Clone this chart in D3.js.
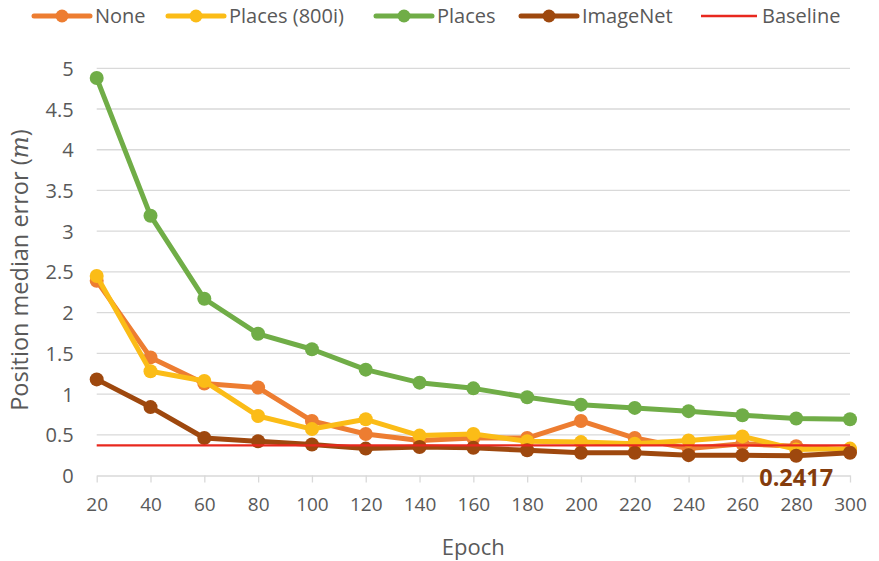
<!DOCTYPE html>
<html>
<head>
<meta charset="utf-8">
<script src="https://cdn.jsdelivr.net/npm/d3@7"></script>
<style>
  html, body { margin: 0; padding: 0; background: #fff; }
  svg text { font-family: "Open Sans", "Liberation Sans", sans-serif; }
</style>
</head>
<body>
<svg id="chart" width="879" height="561"></svg>
<script>
const epochs = [20, 40, 60, 80, 100, 120, 140, 160, 180, 200, 220, 240, 260, 280, 300];
const noneVals = [2.39, 1.45, 1.13, 1.08, 0.67, 0.51, 0.43, 0.46, 0.46, 0.67, 0.46, 0.33, 0.39, 0.36, 0.31];
const places800iVals = [2.45, 1.28, 1.16, 0.73, 0.57, 0.69, 0.49, 0.51, 0.42, 0.41, 0.39, 0.43, 0.48, 0.32, 0.33];
const placesVals = [4.88, 3.19, 2.17, 1.74, 1.55, 1.30, 1.14, 1.07, 0.96, 0.87, 0.83, 0.79, 0.74, 0.70, 0.69];
const imagenetVals = [1.18, 0.84, 0.46, 0.42, 0.38, 0.33, 0.35, 0.34, 0.31, 0.28, 0.28, 0.25, 0.25, 0.2417, 0.28];
const baselineVal = 0.37;
const yTicks = [0, 0.5, 1, 1.5, 2, 2.5, 3, 3.5, 4, 4.5, 5];
const seriesNames = ["None", "Places (800i)", "Places", "ImageNet", "Baseline"];
const seriesColors = ["#ED7D31", "#FBBC17", "#70AD47", "#9E480E", "#E8281E"];
const annotation = "0.2417";

const svg = d3.select("#chart");
const mLeft = 96.7, mRight = 850, mTop = 68.3, mBottom = 475.5;

const x = d3.scalePoint().domain(epochs).range([mLeft, mRight]);
const y = d3.scaleLinear().domain([0, 5]).range([mBottom, mTop]);

const grey = "#595959";

// gridlines
svg.append("g").selectAll("line").data(yTicks.filter(d => d > 0)).join("line")
  .attr("x1", mLeft).attr("x2", mRight)
  .attr("y1", d => y(d)).attr("y2", d => y(d))
  .attr("stroke", "#D9D9D9").attr("stroke-width", 1.3);

// y axis
const yAxis = d3.axisLeft(y).tickValues(yTicks).tickSize(0).tickPadding(0).tickFormat(d3.format("~g"));
const yg = svg.append("g").attr("transform", `translate(${mLeft - 23},0)`).call(yAxis);
yg.select(".domain").remove();
yg.selectAll("text").attr("fill", grey).attr("font-size", 20).attr("dy", "0.35em");

// x axis
const xAxis = d3.axisBottom(x).tickSize(7).tickPadding(15).tickSizeOuter(0);
const xg = svg.append("g").attr("transform", `translate(0,${mBottom})`).call(xAxis);
xg.select(".domain").attr("stroke", "#D9D9D9").attr("stroke-width", 1.3);
xg.selectAll(".tick line").attr("stroke", "#D9D9D9").attr("stroke-width", 1.3);
xg.selectAll("text").attr("fill", grey).attr("font-size", 19);

// axis titles
svg.append("text").attr("x", (mLeft + mRight) / 2).attr("y", 555)
  .attr("text-anchor", "middle").attr("fill", grey).attr("font-size", 22).text("Epoch");

const yt = svg.append("text")
  .attr("transform", `translate(28,270) rotate(-90)`)
  .attr("text-anchor", "middle").attr("fill", grey).attr("font-size", 23.5);
yt.append("tspan").text("Position median error (");
yt.append("tspan").attr("font-family", "DejaVu Serif, Liberation Serif, serif").attr("font-style", "italic").text("m");
yt.append("tspan").text(")");

// series
const data = [noneVals, places800iVals, placesVals, imagenetVals];
const line = d3.line().x((d, i) => x(epochs[i])).y(d => y(d));
data.forEach((vals, si) => {
  const g = svg.append("g");
  g.append("path").datum(vals).attr("d", line)
    .attr("fill", "none").attr("stroke", seriesColors[si]).attr("stroke-width", 5)
    .attr("stroke-linejoin", "round");
  g.selectAll("circle").data(vals).join("circle")
    .attr("cx", (d, i) => x(epochs[i])).attr("cy", d => y(d)).attr("r", 7)
    .attr("fill", seriesColors[si]);
});

// baseline
svg.append("line")
  .attr("x1", x(epochs[0])).attr("x2", x(epochs[epochs.length - 1]))
  .attr("y1", y(baselineVal)).attr("y2", y(baselineVal))
  .attr("stroke", seriesColors[4]).attr("stroke-width", 2.2);

// annotation
svg.append("text").attr("x", x(280)).attr("y", 486)
  .attr("text-anchor", "middle").attr("fill", "#843C0C")
  .attr("font-size", 23.5).attr("font-weight", "bold").text(annotation);

// legend
const legendX = [34, 168, 376, 521, 701];
const lg = svg.append("g");
seriesNames.forEach((name, i) => {
  const x0 = legendX[i], cy = 16;
  lg.append("line").attr("x1", x0).attr("x2", x0 + 56).attr("y1", cy).attr("y2", cy)
    .attr("stroke", seriesColors[i]).attr("stroke-width", i === 4 ? 2.5 : 5).attr("stroke-linecap", i === 4 ? "butt" : "round");
  if (i < 4) lg.append("circle").attr("cx", x0 + 28).attr("cy", cy).attr("r", 6.5).attr("fill", seriesColors[i]);
  lg.append("text").attr("x", x0 + 61).attr("y", cy).attr("dy", "0.35em")
    .attr("fill", grey).attr("font-size", 20).text(name);
});
</script>
</body>
</html>
